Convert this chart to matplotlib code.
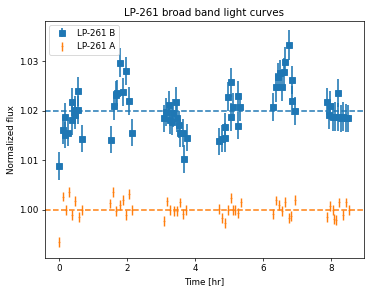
# LP-261 broad band light curves, two targets with errorbars
import numpy as np
import matplotlib
matplotlib.use('Agg')
import matplotlib.pyplot as plt

plt.rcParams['font.size'] = 9.8

# LP-261 B (time in hr, normalized flux, error)
t_b = [0.00, 0.10, 0.17, 0.17, 0.27, 0.36, 0.36, 0.46, 0.46, 0.56, 0.56, 0.66,
       1.51, 1.60, 1.66, 1.70, 1.78, 1.86, 1.96, 2.05, 2.15,
       3.08, 3.15, 3.22, 3.25, 3.32, 3.35, 3.42, 3.45, 3.52, 3.55, 3.65, 3.68, 3.75,
       4.69, 4.78, 4.86, 4.86, 4.96, 5.06, 5.06, 5.12, 5.25, 5.25, 5.32,
       6.28, 6.37, 6.44, 6.48, 6.55, 6.62, 6.65, 6.75, 6.83, 6.83, 6.92,
       7.87, 7.94, 7.97, 8.04, 8.10, 8.20, 8.20, 8.28, 8.35, 8.42, 8.50]
flux_b = [1.0089, 1.0161, 1.0188, 1.0151, 1.0155, 1.0218, 1.0181, 1.0191, 1.0201, 1.0239, 1.0202, 1.0144,
          1.0142, 1.0210, 1.0232, 1.0236, 1.0297, 1.0238, 1.0280, 1.0220, 1.0156,
          1.0185, 1.0198, 1.0211, 1.0181, 1.0178, 1.0195, 1.0218, 1.0185, 1.0172, 1.0155, 1.0155, 1.0103, 1.0146,
          1.0138, 1.0144, 1.0146, 1.0168, 1.0228, 1.0187, 1.0257, 1.0207, 1.0230, 1.0170, 1.0207,
          1.0208, 1.0247, 1.0268, 1.0276, 1.0248, 1.0279, 1.0299, 1.0333, 1.0262, 1.0220, 1.0200,
          1.0218, 1.0192, 1.0210, 1.0188, 1.0188, 1.0236, 1.0188, 1.0185, 1.0188, 1.0185, 1.0185]
err_b = [0.0028, 0.0029, 0.0028, 0.0027, 0.0027, 0.0028, 0.0029, 0.0027, 0.0028, 0.0029, 0.0028, 0.0027,
         0.0027, 0.0029, 0.0028, 0.0027, 0.0029, 0.0028, 0.0029, 0.0028, 0.0027,
         0.0027, 0.0028, 0.0029, 0.0028, 0.0027, 0.0028, 0.0029, 0.0028, 0.0027, 0.0028, 0.0029, 0.0028, 0.0027,
         0.0028, 0.0027, 0.0029, 0.0028, 0.0029, 0.0028, 0.0030, 0.0028, 0.0029, 0.0027, 0.0028,
         0.0028, 0.0029, 0.0028, 0.0027, 0.0029, 0.0028, 0.0029, 0.0030, 0.0028, 0.0029, 0.0028,
         0.0027, 0.0028, 0.0029, 0.0028, 0.0029, 0.0029, 0.0028, 0.0027, 0.0029, 0.0028, 0.0027]

# LP-261 A
t_a = [0.00, 0.10, 0.20, 0.28, 0.38, 0.47, 0.57, 0.66,
       1.49, 1.58, 1.68, 1.78, 1.86, 1.96, 2.05, 2.15,
       3.08, 3.18, 3.27, 3.37, 3.46, 3.54, 3.64, 3.74,
       4.69, 4.78, 4.86, 4.96, 5.06, 5.10, 5.17, 5.25, 5.33,
       6.28, 6.36, 6.45, 6.55, 6.65, 6.75, 6.82, 6.92,
       7.86, 7.96, 8.04, 8.08, 8.15, 8.23, 8.33, 8.43, 8.52]
flux_a = [0.9935, 1.0027, 0.9999, 1.0036, 0.9990, 1.0018, 0.9985, 0.9999,
          1.0013, 1.0036, 0.9997, 1.0010, 1.0020, 0.9990, 1.0032, 1.0000,
          0.9977, 1.0017, 0.9999, 0.9997, 0.9997, 1.0015, 0.9992, 1.0000,
          1.0002, 0.9983, 0.9973, 0.9999, 1.0024, 1.0000, 0.9999, 0.9993, 1.0015,
          0.9992, 1.0019, 1.0010, 0.9997, 1.0016, 0.9983, 0.9988, 1.0020,
          0.9985, 1.0007, 1.0000, 0.9981, 0.9979, 1.0015, 0.9990, 1.0015, 1.0000]
err_a = [0.0010] * len(t_a)

fig = plt.figure(figsize=(374 / 64, 292 / 64), dpi=64)
ax = fig.add_axes([45 / 374, 34 / 292, 319 / 374, 237 / 292])

ax.errorbar(t_b, flux_b, yerr=err_b, fmt='s', color='C0', markersize=6,
            elinewidth=1.8, label='LP-261 B')
ax.errorbar(t_a, flux_a, yerr=err_a, fmt='.', markersize=2, color='C1',
            elinewidth=1.6, label='LP-261 A')
ax.axhline(1.02, color='C0', linestyle='--', linewidth=1.7)
ax.axhline(1.00, color='C1', linestyle='--', linewidth=1.7)

ax.set_xlim(-0.42, 8.96)
ax.set_ylim(0.9903, 1.0381)
ax.set_yticks([1.00, 1.01, 1.02, 1.03])
ax.set_xlabel('Time [hr]')
ax.set_ylabel('Normalized flux')
ax.set_title('LP-261 broad band light curves', fontsize=11.5)
ax.legend(loc='upper left')

fig.savefig('out.png', dpi=64)
